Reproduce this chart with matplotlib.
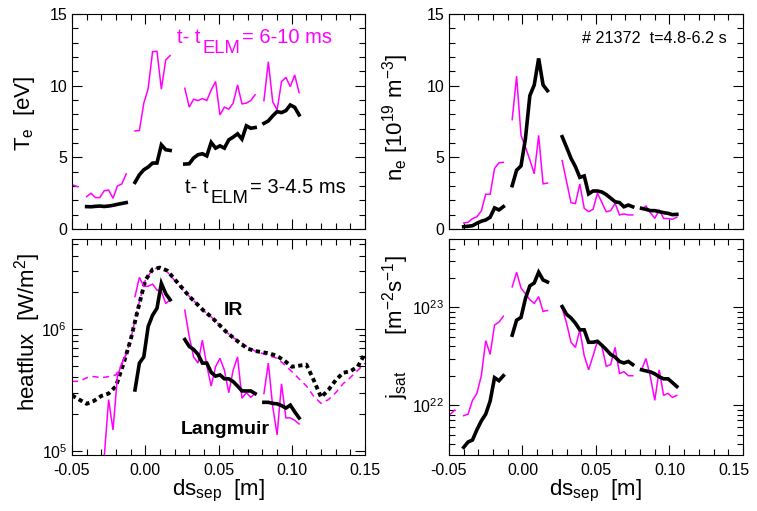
import numpy as np
import matplotlib
matplotlib.use("Agg")
import matplotlib.pyplot as plt
from matplotlib.ticker import (MultipleLocator, FormatStrFormatter, FuncFormatter,
                               LogLocator, NullFormatter)

plt.rcParams['font.family'] = 'Liberation Sans'
plt.rcParams['mathtext.fontset'] = 'custom'
plt.rcParams['mathtext.rm'] = 'Liberation Sans'
plt.rcParams['mathtext.default'] = 'regular'

PINK = '#ff00ff'

# probe positions (ds_sep in m), one list per probe group
probe_x = [
    [-0.052, -0.049, -0.046],
    [-0.040, -0.037, -0.034, -0.031, -0.028, -0.025, -0.022, -0.019, -0.016, -0.013],
    [-0.007, -0.004, -0.001, 0.002, 0.005, 0.008, 0.011, 0.014, 0.017],
    [0.027, 0.030, 0.033, 0.036, 0.039, 0.042, 0.045, 0.048, 0.051, 0.054,
     0.057, 0.060, 0.063, 0.066, 0.069, 0.072, 0.075],
    [0.081, 0.084, 0.087, 0.090, 0.093, 0.096, 0.099, 0.102, 0.105],
]

# Te [eV]; late = t-tELM 6-10 ms (pink), early = 3-4.5 ms (black)
te_late = [
    [3.2, 3.05, 2.95],
    [2.26, 2.49, 2.19, 2.19, 2.67, 2.72, 2.14, 3.0, 3.14, 3.84],
    [6.84, 6.87, 8.77, 9.8, 12.37, 12.4, 9.75, 11.8, 12.1],
    [9.82, 8.5, 9.05, 8.96, 9.1, 8.96, 9.7, 10.29, 7.96, 8.5, 8.36, 8.78, 10.05, 8.73, 8.78, 8.96, 9.36],
    [8.95, 11.67, 8.88, 8.3, 10.28, 10.58, 9.93, 10.75, 9.51],
]
te_early = [
    None,
    [1.56, 1.55, 1.58, 1.6, 1.57, 1.6, 1.65, 1.72, 1.78, 1.84],
    [3.25, 3.78, 4.13, 4.32, 4.6, 4.6, 5.87, 5.53, 5.48],
    [4.53, 4.55, 4.95, 5.18, 5.25, 5.1, 6.04, 5.64, 5.8, 5.64, 6.22, 6.41, 6.64, 6.27, 7.2, 7.03, 7.08],
    [7.37, 7.54, 7.89, 8.19, 8.12, 8.26, 8.65, 8.49, 7.96],
]

# ne [1e19 m^-3]
ne_late = [
    None,
    [0.42, 0.47, 0.72, 0.85, 1.26, 2.42, 2.42, 4.22, 4.62, 4.65],
    [7.63, 10.66, 6.53, 5.71, 4.83, 3.85, 6.53, 3.15, 3.2],
    [4.77, 3.3, 1.84, 1.77, 3.14, 1.44, 1.21, 1.37, 2.5, 1.85, 1.2, 1.28, 1.79, 0.98, 1.05, 0.98, 0.98],
    [1.37, 1.6, 1.14, 0.74, 1.33, 0.74, 0.72, 0.68, 0.82],
]
ne_early = [
    None,
    [0.16, 0.19, 0.23, 0.4, 0.54, 0.63, 0.82, 1.47, 1.33, 1.56],
    [3.02, 4.1, 4.4, 6.3, 9.3, 10.05, 11.9, 10.05, 9.65],
    [6.44, 5.7, 4.93, 4.35, 3.6, 3.7, 2.45, 2.65, 2.65, 2.58, 2.4, 2.15, 1.9, 1.84, 1.55, 1.67, 1.55],
    [1.44, 1.37, 1.28, 1.28, 1.21, 1.14, 1.09, 1.0, 1.02],
]

# Langmuir heat flux [1e5 W/m^2]
q_late = [
    None,
    [0.4, 0.32, 0.5, 0.63, 0.89, 2.63, 1.48, 4.07, 5.25, 6.17],
    [18.5, 26.6, 22.4, 22.5, 23.4, 20.9, 20.4, 16.2, 17.4],
    [14.3, 8.7, 5.9, 5.25, 8.1, 5.0, 3.4, 4.9, 5.75, 4.6, 3.0, 4.6, 5.9, 2.7, 3.0, 2.75, 2.95],
    [2.95, 5.25, 2.3, 1.35, 3.55, 1.86, 1.86, 1.78, 1.66],
]
q_early = [
    None,
    None,
    [3.16, 5.25, 5.9, 10.5, 13.0, 14.8, 23.7, 19.5, 17.4],
    [8.2, 7.2, 6.8, 6.2, 5.25, 5.25, 4.4, 4.1, 4.2, 3.9, 3.9, 3.7, 3.4, 3.1, 3.1, 3.1, 2.95],
    [2.5, 2.5, 2.45, 2.43, 2.35, 2.24, 2.37, 2.09, 1.86],
]

# IR heat flux [1e5 W/m^2]
ir_x = [-0.050, -0.045, -0.040, -0.035, -0.030, -0.025, -0.020, -0.015, -0.010, -0.005,
        0.000, 0.005, 0.010, 0.015, 0.020, 0.025, 0.030, 0.035, 0.040, 0.045,
        0.050, 0.055, 0.060, 0.065, 0.070, 0.075, 0.080, 0.085, 0.090, 0.095,
        0.100, 0.105, 0.110, 0.115, 0.120, 0.125, 0.130, 0.135, 0.140, 0.145, 0.150]
ir_early = [2.85, 2.63, 2.43, 2.57, 2.82, 2.95, 3.39, 5.13, 8.13, 14.5,
            25.1, 30.9, 32.0, 30.2, 25.7, 21.9, 18.6, 16.2, 14.1, 12.6,
            11.0, 9.55, 8.5, 7.6, 6.9, 6.6, 6.45, 6.3, 6.0, 5.5,
            4.9, 5.0, 5.1, 3.8, 2.75, 3.16, 3.8, 4.37, 4.5, 4.9, 6.3]
ir_late = [3.72, 3.72, 3.98, 4.07, 3.98, 4.07, 4.2, 5.37, 8.13, 15.1,
           25.1, 30.9, 32.4, 29.5, 25.1, 21.4, 18.6, 16.2, 14.1, 12.6,
           11.0, 9.55, 8.5, 7.8, 7.1, 6.6, 6.3, 6.0, 5.75, 5.1,
           4.47, 3.9, 3.4, 2.8, 2.45, 2.63, 3.0, 3.55, 4.0, 4.57, 5.25]

# jsat [1e22 m^-2 s^-1]
js_late = [
    [0.74, 0.81, 0.89],
    [0.78, 0.81, 1.12, 1.32, 2.0, 4.57, 3.31, 6.61, 7.08, 8.13],
    [16.2, 22.9, 15.8, 13.8, 12.0, 11.0, 12.9, 9.1, 9.3],
    [9.8, 6.9, 4.4, 3.9, 5.9, 3.2, 2.3, 3.2, 4.5, 4.0, 2.5, 2.6, 3.9, 2.1, 2.2, 2.0, 2.0],
    [2.3, 3.0, 1.95, 1.12, 2.3, 1.26, 1.32, 1.2, 1.26],
]
js_early = [
    None,
    [0.37, 0.42, 0.44, 0.56, 0.69, 0.81, 1.10, 1.91, 1.78, 2.0],
    [5.2, 7.4, 7.9, 12.3, 16.6, 17.8, 22.9, 19.1, 18.2],
    [10.2, 8.5, 7.8, 6.9, 5.9, 5.9, 4.4, 4.4, 4.5, 4.1, 3.7, 3.3, 3.1, 2.8, 2.7, 2.8, 2.6],
    [2.3, 2.24, 2.19, 2.09, 1.95, 1.86, 1.86, 1.70, 1.55],
]

LABEL_FS = 16
TICK_FS = 11.5


def draw_probes(ax, series, color, lw, scale=1.0):
    for xs, ys in zip(probe_x, series):
        if ys is None:
            continue
        ax.plot(xs, np.array(ys) * scale, color=color, lw=lw, solid_joinstyle='miter')


def style_axis(ax, log=False, bottom_labels=True):
    ax.set_xlim(-0.05, 0.15)
    ax.xaxis.set_major_locator(MultipleLocator(0.05))
    ax.xaxis.set_minor_locator(MultipleLocator(0.01))
    ax.xaxis.set_major_formatter(FormatStrFormatter('%.2f'))
    if log:
        ax.yaxis.set_major_locator(LogLocator(base=10))
        ax.yaxis.set_minor_locator(LogLocator(base=10, subs=np.arange(2, 10)))
        ax.yaxis.set_minor_formatter(NullFormatter())
    else:
        ax.set_ylim(0, 15)
        ax.yaxis.set_major_locator(MultipleLocator(5))
        ax.yaxis.set_minor_locator(MultipleLocator(1))
    ax.tick_params(which='both', direction='in', top=True, right=True,
                   labelsize=TICK_FS, width=0.8)
    ax.tick_params(which='major', length=7)
    ax.tick_params(which='minor', length=4)
    ax.tick_params(axis='x', pad=6)
    if not bottom_labels:
        ax.tick_params(labelbottom=False)
    for s in ax.spines.values():
        s.set_linewidth(0.8)


def elm_label(ax, x, y, value, color):
    # IDL-style "t- t_ELM = ..." with a large, dropped subscript
    t1 = ax.text(x, y, 't- t', color=color, fontsize=14.5,
                 transform=ax.transAxes, va='baseline', ha='left')
    t2 = ax.annotate('ELM', xy=(1, 0), xycoords=t1, xytext=(1.5, -7),
                     textcoords='offset points', color=color, fontsize=13.3,
                     va='bottom', ha='left')
    ax.annotate('= ' + value, xy=(1, 0), xycoords=(t2, t1), xytext=(1, 0),
                textcoords='offset points', color=color, fontsize=14.5,
                va='bottom', ha='left')


fig = plt.figure(figsize=(7.57, 5.11), dpi=100)
ax_te = fig.add_axes([0.0951, 0.5519, 0.3871, 0.4207])
ax_ne = fig.add_axes([0.5931, 0.5519, 0.3884, 0.4207])
ax_q = fig.add_axes([0.0951, 0.1096, 0.3871, 0.4227])
ax_js = fig.add_axes([0.5931, 0.1096, 0.3884, 0.4227])

# Te
draw_probes(ax_te, te_late, PINK, 1.1)
draw_probes(ax_te, te_early, 'black', 2.6)
style_axis(ax_te, bottom_labels=False)
ax_te.set_ylabel(r'T$_e$  [eV]', fontsize=LABEL_FS)
ax_te.yaxis.set_label_coords(-0.12, 0.54)
elm_label(ax_te, 0.358, 0.864, '6-10 ms', PINK)
elm_label(ax_te, 0.386, 0.168, '3-4.5 ms', 'black')

# ne
draw_probes(ax_ne, ne_late, PINK, 1.1)
draw_probes(ax_ne, ne_early, 'black', 2.6)
style_axis(ax_ne, bottom_labels=False)
ax_ne.set_ylabel(r'n$_e$ [10$^{19}$ m$^{-3}$]', fontsize=LABEL_FS)
ax_ne.yaxis.set_label_coords(-0.13, 0.52)
ax_ne.text(0.451, 0.884, '# 21372  t=4.8-6.2 s', fontsize=11.6,
           transform=ax_ne.transAxes, va='center', ha='left')

# heat flux
ax_q.set_yscale('log')
ax_q.plot(ir_x, np.array(ir_late) * 1e5, color=PINK, lw=1.1, linestyle=(0, (4, 3)))
ax_q.plot(ir_x, np.array(ir_early) * 1e5, color='black', lw=2.8, linestyle=(0, (1.1, 0.9)))
draw_probes(ax_q, q_late, PINK, 1.1, 1e5)
draw_probes(ax_q, q_early, 'black', 2.6, 1e5)
ax_q.set_ylim(10 ** 4.965, 10 ** 6.74)
style_axis(ax_q, log=True)
ax_q.set_ylabel(r'heatflux  [W/m$^2$]', fontsize=LABEL_FS)
ax_q.yaxis.set_label_coords(-0.10, 0.57)
ax_q.set_xlabel(r'ds$_{sep}$  [m]', fontsize=LABEL_FS, labelpad=0)
ax_q.text(0.55, 0.671, 'IR', fontsize=14, fontweight='bold',
          transform=ax_q.transAxes, va='center', ha='center')
ax_q.text(0.524, 0.12, 'Langmuir', fontsize=14, fontweight='bold',
          transform=ax_q.transAxes, va='center', ha='center')

# jsat
ax_js.set_yscale('log')
draw_probes(ax_js, js_late, PINK, 1.1, 1e22)
draw_probes(ax_js, js_early, 'black', 2.6, 1e22)
ax_js.set_ylim(10 ** 21.49, 10 ** 23.70)
style_axis(ax_js, log=True)
ax_js.set_ylabel(r'j$_{sat}$      [m$^{-2}$s$^{-1}$]', fontsize=LABEL_FS)
ax_js.yaxis.set_label_coords(-0.13, 0.59)
ax_js.set_xlabel(r'ds$_{sep}$  [m]', fontsize=LABEL_FS, labelpad=0)

# the last x label of the right panel is drawn a bit to the left so it
# stays inside the figure
ax_js.xaxis.set_major_formatter(
    FuncFormatter(lambda v, pos: '' if v > 0.149 else '%.2f' % v))
ax_js.annotate('0.15', xy=(0.15, 0), xycoords=('data', 'axes fraction'),
               xytext=(-6.5, -6), textcoords='offset points',
               ha='center', va='top', fontsize=TICK_FS)

fig.savefig('out.png', dpi=100)
